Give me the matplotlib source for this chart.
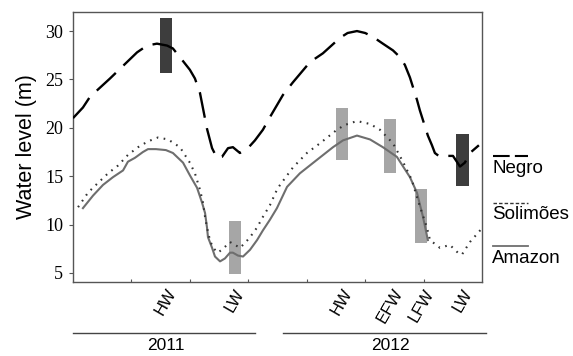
import matplotlib.pyplot as plt
from matplotlib.lines import Line2D
import numpy as np

# ---- data (x in months from start of axis, y in m) ----
negro_x = [0.0, 0.51, 0.87, 1.90, 2.26, 3.29, 3.80, 4.31, 4.83, 5.13, 5.49, 6.0, 6.26, 6.52,
           6.88, 7.14, 7.39, 7.65, 7.96, 8.21, 8.57, 8.98, 9.34, 9.75, 10.11, 10.78, 11.29,
           12.17, 12.83, 13.71, 14.1, 14.58, 15.0, 15.40, 15.91, 16.43, 16.79, 17.04, 17.30,
           17.66, 17.81, 18.22, 18.43, 18.58, 18.84, 19.20, 19.51, 19.87, 20.12, 20.38, 20.84]
negro_y = [21.0, 22.1, 23.2, 25.1, 25.8, 27.8, 28.5, 28.7, 28.5, 28.2, 27.3, 26.0, 25.1, 23.6,
           19.9, 17.9, 16.9, 17.0, 17.9, 18.0, 17.4, 17.9, 18.7, 19.8, 21.1, 23.4, 24.7,
           26.8, 27.7, 29.3, 29.8, 30.0, 29.8, 29.4, 28.7, 28.0, 27.3, 26.5, 25.2,
           22.9, 21.8, 19.2, 18.2, 17.4, 17.0, 17.1, 17.1, 16.0, 16.4, 17.4, 18.2]

solimoes_x = [0.26, 0.77, 1.28, 1.80, 2.31, 2.82, 3.34, 3.85, 4.36, 4.88, 5.49, 6.0, 6.26,
              6.52, 6.67, 6.78, 6.88, 7.03, 7.19, 7.44, 7.70, 8.06, 8.32, 8.57, 8.83, 9.09,
              9.45, 9.75, 10.11, 10.47, 10.63, 11.29, 12.01, 12.68, 13.55, 13.96, 14.58, 15.25,
              15.76, 16.43, 16.94, 17.40, 17.71, 18.17, 18.33, 18.84, 19.35, 19.76, 19.97,
              20.38, 20.99]
solimoes_y = [11.8, 13.3, 14.3, 15.3, 16.1, 17.2, 18.0, 18.6, 19.0, 18.8, 18.0, 16.4, 15.3,
              13.6, 12.3, 10.8, 9.7, 8.4, 7.6, 7.1, 7.5, 8.2, 7.9, 7.6, 8.1, 8.7,
              9.7, 10.8, 12.0, 13.6, 14.1, 15.9, 17.4, 18.4, 19.8, 20.3, 20.7, 20.4,
              19.8, 18.4, 16.5, 14.6, 12.5, 9.7, 8.4, 7.6, 7.9, 7.1, 6.9,
              8.2, 9.6]

amazon_x = [0.51, 1.03, 1.54, 2.05, 2.57, 2.82, 3.18, 3.59, 3.85, 4.26, 4.77, 5.13, 5.65, 6.0,
            6.37, 6.62, 6.78, 6.88, 6.93, 7.14, 7.29, 7.55, 7.80, 8.06, 8.21, 8.47, 8.73, 9.09,
            9.45, 9.75, 10.11, 10.47, 10.99, 11.65, 12.53, 13.35, 13.86, 14.58, 15.25, 15.91,
            16.63, 17.30, 17.66, 17.97, 18.22]
amazon_y = [11.7, 13.0, 14.1, 14.9, 15.6, 16.5, 16.9, 17.5, 17.8, 17.8, 17.7, 17.4, 16.4, 15.1,
            13.8, 12.3, 11.2, 9.7, 8.7, 7.6, 6.7, 6.2, 6.5, 7.1, 7.1, 6.8, 6.7, 7.4,
            8.4, 9.4, 10.5, 11.7, 13.9, 15.3, 16.7, 18.0, 18.7, 19.2, 18.8, 18.0,
            17.0, 14.9, 13.3, 10.8, 8.4]

# sampling periods
period_labels = ["HW", "LW", "HW", "EFW", "LFW", "LW"]
period_x = [4.77, 8.32, 13.81, 16.27, 17.89, 20.0]
period_low = [25.7, 4.9, 16.7, 15.3, 8.1, 14.0]
period_high = [31.3, 10.4, 22.1, 20.9, 13.7, 19.4]
period_dark = [True, False, False, False, False, True]

years = ["2011", "2012"]

fig = plt.figure(figsize=(5.73, 3.56), dpi=100)
ax = fig.add_axes([0.1274, 0.2079, 0.7138, 0.7584])

# bars behind the lines
heights = [h - l for h, l in zip(period_high, period_low)]
cols = ['#3d3d3d' if d else '#a6a6a6' for d in period_dark]
ax.bar(period_x, heights, bottom=period_low, width=0.62, color=cols, zorder=1)

ax.plot(negro_x, negro_y, color='black', lw=1.7, linestyle=(0, (11, 4.5)),
        dash_joinstyle='round', zorder=3)
ax.plot(solimoes_x, solimoes_y, color='#333333', lw=1.5, linestyle=(0, (0.8, 2.6)), zorder=3)
ax.plot(amazon_x, amazon_y, color='#6e6e6e', lw=1.5, solid_joinstyle='round', zorder=2)

ax.set_xlim(0, 21)
ax.set_ylim(4.07, 31.97)
ax.set_yticks([5, 10, 15, 20, 25, 30])
ax.set_yticklabels(['5', '10', '15', '20', '25', '30'], family='Liberation Serif', fontsize=13)
ax.tick_params(axis='y', direction='out', length=3, width=0.8, color='#555555', pad=4)

ax.set_xticks(period_x)
ax.set_xticklabels(period_labels, rotation=60, ha='center', family='Liberation Sans', fontsize=12)
ax.tick_params(axis='x', which='major', length=0, pad=3)
ax.set_xticks(np.arange(3, 19, 3), minor=True)
ax.tick_params(axis='x', which='minor', direction='in', length=2.5, width=0.8, color='#555555')

for s in ax.spines.values():
    s.set_color('#555555')
    s.set_linewidth(1.0)

ax.set_ylabel("Water level (m)", family='Liberation Sans', fontsize=15.5, labelpad=6)

# year brackets
def fx(px):
    return px / 573.0

def fy(py):
    return 1 - py / 356.0

fig.add_artist(Line2D([fx(73), fx(255)], [fy(333), fy(333)], color='#444444', lw=1.0))
fig.add_artist(Line2D([fx(283), fx(486)], [fy(333), fy(333)], color='#444444', lw=1.0))
fig.text(fx(166), fy(338), years[0], ha='center', va='top', family='Liberation Sans', fontsize=12.5)
fig.text(fx(390), fy(338), years[1], ha='center', va='top', family='Liberation Sans', fontsize=12.5)

# legend, line sample above each name
fig.add_artist(Line2D([fx(493), fx(528)], [fy(156), fy(156)], color='black', lw=1.5,
                      linestyle=(0, (8, 2.5))))
fig.text(fx(492), fy(160), "Negro", ha='left', va='top', family='Liberation Sans', fontsize=13.5)
fig.add_artist(Line2D([fx(493), fx(528)], [fy(203), fy(203)], color='#333333', lw=1.0,
                      linestyle=(0, (2.5, 1.5))))
fig.text(fx(492), fy(206), "Solimões", ha='left', va='top', family='Liberation Sans', fontsize=13.5)
fig.add_artist(Line2D([fx(493), fx(528)], [fy(246), fy(246)], color='#6e6e6e', lw=1.3))
fig.text(fx(492), fy(250), "Amazon", ha='left', va='top', family='Liberation Sans', fontsize=13.5)

plt.savefig('out.png', dpi=100)
